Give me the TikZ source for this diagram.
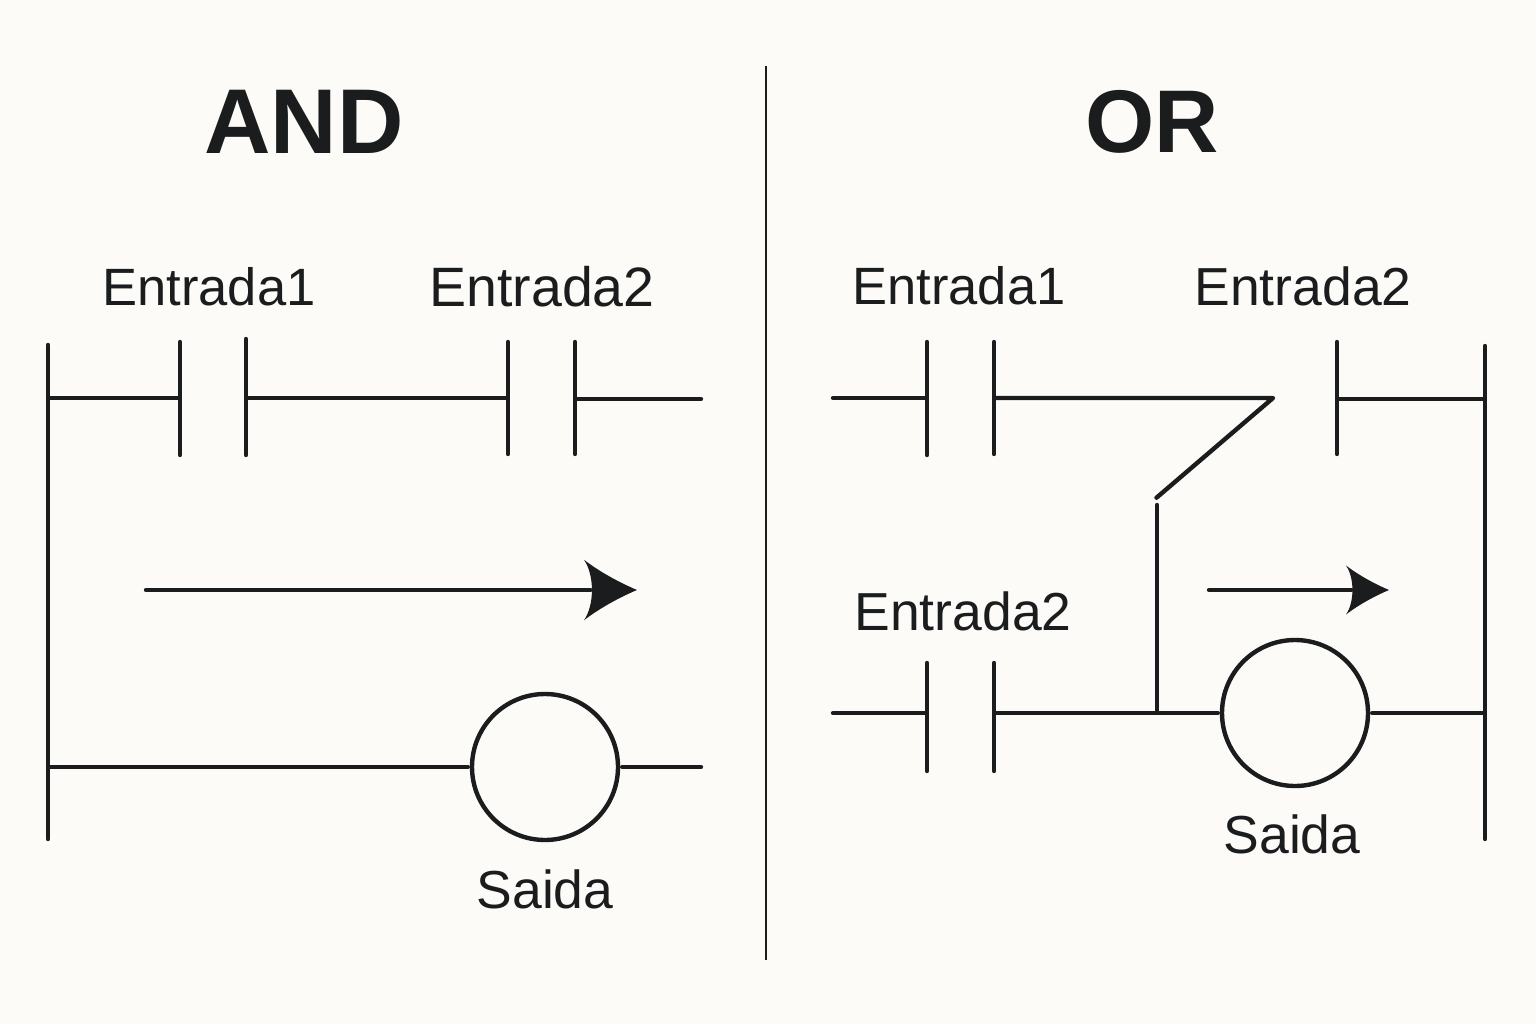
\documentclass[tikz,border=0pt]{standalone}
\usepackage{fontspec}
\setmainfont{Liberation Sans}
\usetikzlibrary{arrows.meta}
\definecolor{inkc}{HTML}{1A1C1E}
\definecolor{paperc}{HTML}{FCFBF7}
\pgfdeclarearrow{
  name=FlowHead,
  parameters={\the\pgfarrowlength},
  setup code={
    \pgfarrowssettipend{0pt}
    \pgfarrowssetlineend{-0.88\pgfarrowlength}
    \pgfarrowssetbackend{-\pgfarrowlength}
    \pgfarrowssetvisualbackend{-0.85\pgfarrowlength}
  },
  drawing code={
    \pgfpathmoveto{\pgfqpoint{0pt}{0pt}}
    \pgfpathcurveto{\pgfpoint{-0.33\pgfarrowlength}{0.14\pgfarrowlength}}{\pgfpoint{-0.7\pgfarrowlength}{0.34\pgfarrowlength}}{\pgfpoint{-\pgfarrowlength}{0.57\pgfarrowlength}}
    \pgfpathcurveto{\pgfpoint{-0.8\pgfarrowlength}{0.28\pgfarrowlength}}{\pgfpoint{-0.8\pgfarrowlength}{-0.28\pgfarrowlength}}{\pgfpoint{-\pgfarrowlength}{-0.57\pgfarrowlength}}
    \pgfpathcurveto{\pgfpoint{-0.7\pgfarrowlength}{-0.34\pgfarrowlength}}{\pgfpoint{-0.33\pgfarrowlength}{-0.14\pgfarrowlength}}{\pgfqpoint{0pt}{0pt}}
    \pgfpathclose
    \pgfusepathqfill
  },
  defaults={length=53pt}
}
\begin{document}
\begin{tikzpicture}[x=1pt, y=-1pt]
        \tikzstyle{wire} = [draw=inkc, line width=4.4pt, line cap=round, shorten >=2pt, shorten <=2pt]
        \tikzstyle{thin wire} = [draw=inkc, line width=2.8pt]
        \tikzstyle{coil} = [draw=inkc, line width=4.4pt, circle, minimum size=146pt, inner sep=0pt]
        \tikzstyle{title} = [text=inkc, font=\fontsize{92}{92}\selectfont\bfseries, inner sep=0pt]
        \tikzstyle{label} = [text=inkc, font=\fontsize{53.5}{54}\selectfont, inner sep=0pt]
        \tikzstyle{flow} = [draw=inkc, line width=4.4pt, line cap=round, shorten <=2pt]
        \fill[paperc] (0,0) rectangle (1536,1024);
        \useasboundingbox (0,0) rectangle (1536,1024);

        % Divider
        \coordinate (divtop) at (766,66);
        \coordinate (divbot) at (766,960);
        \path[thin wire] (divtop) -- (divbot);

        % AND side
        \node[title] (andtitle) at (304,122) {AND};
        \node[label, font=\fontsize{52.5}{54}\selectfont] (ae1) at (209,287) {Entrada1};
        \node[label, font=\fontsize{55.5}{54}\selectfont] (ae2) at (542,287) {Entrada2};
        \node[label] (asaida) at (545,889) {Saida};
        \node[coil] (acoil) at (545,767) {};
        \coordinate (arailtop) at (48,343);
        \coordinate (arailbot) at (48,841);
        \coordinate (arung1) at (48,398);
        \coordinate (arung2) at (48,767);
        \coordinate (ac1a) at (180,398);
        \coordinate (ac1at) at (180,340);
        \coordinate (ac1ab) at (180,457);
        \coordinate (ac1b) at (246,398);
        \coordinate (ac1bt) at (246,337);
        \coordinate (ac1bb) at (246,457);
        \coordinate (ac2a) at (508,398);
        \coordinate (ac2at) at (508,340);
        \coordinate (ac2ab) at (508,456);
        \coordinate (ac2b) at (575,399);
        \coordinate (ac2bt) at (575,340);
        \coordinate (ac2bb) at (575,456);
        \coordinate (aend1) at (703,399);
        \coordinate (aend2) at (703,767);
        \coordinate (aflow1) at (144,590);
        \coordinate (aflow2) at (637,590);
        \path[wire] (arailtop) -- (arailbot);
        \path[wire] (arung1) -- (ac1a);
        \path[wire] (ac1at) -- (ac1ab);
        \path[wire] (ac1bt) -- (ac1bb);
        \path[wire] (ac1b) -- (ac2a);
        \path[wire] (ac2at) -- (ac2ab);
        \path[wire] (ac2bt) -- (ac2bb);
        \path[wire] (ac2b) -- (aend1);
        \path[wire] (arung2) -- (acoil);
        \path[wire] (acoil) -- (aend2);
        \path[flow, -{FlowHead[length=53pt]}] (aflow1) -- (aflow2);

        % OR side
        \node[title, font=\fontsize{89}{92}\selectfont\bfseries] (ortitle) at (1152,122) {OR};
        \node[label, font=\fontsize{52.5}{54}\selectfont] (oe1) at (959,286) {Entrada1};
        \node[label] (oe2) at (1303,286) {Entrada2};
        \node[label] (oe3) at (963,611) {Entrada2};
        \node[label] (osaida) at (1292,834) {Saida};
        \node[coil] (ocoil) at (1295,713) {};
        \coordinate (orailtop) at (1485,344);
        \coordinate (orailbot) at (1485,841);
        \coordinate (orung1) at (1485,399);
        \coordinate (orung2) at (1485,713);
        \coordinate (oc1s) at (831,398);
        \coordinate (oc1a) at (927,398);
        \coordinate (oc1at) at (927,340);
        \coordinate (oc1ab) at (927,457);
        \coordinate (oc1b) at (994,398);
        \coordinate (oc1bt) at (994,340);
        \coordinate (oc1bb) at (994,456);
        \coordinate (osw) at (1273,398);
        \coordinate (oswend) at (1155,499);
        \coordinate (ojtop) at (1157,503);
        \coordinate (ojbot) at (1157,713);
        \coordinate (oc2b) at (1337,399);
        \coordinate (oc2bt) at (1337,340);
        \coordinate (oc2bb) at (1337,456);
        \coordinate (oc3s) at (831,713);
        \coordinate (oc3a) at (927,713);
        \coordinate (oc3at) at (927,661);
        \coordinate (oc3ab) at (927,773);
        \coordinate (oc3b) at (994,713);
        \coordinate (oc3bt) at (994,661);
        \coordinate (oc3bb) at (994,773);
        \coordinate (oflow1) at (1207,590);
        \coordinate (oflow2) at (1389,590);
        \path[wire] (orailtop) -- (orailbot);
        \path[wire] (oc1s) -- (oc1a);
        \path[wire] (oc1at) -- (oc1ab);
        \path[wire] (oc1bt) -- (oc1bb);
        \path[wire, line join=round] (oc1b) -- (osw) -- (oswend);
        \path[wire] (ojtop) -- (ojbot);
        \path[wire] (oc2bt) -- (oc2bb);
        \path[wire] (oc2b) -- (orung1);
        \path[wire] (oc3s) -- (oc3a);
        \path[wire] (oc3at) -- (oc3ab);
        \path[wire] (oc3bt) -- (oc3bb);
        \path[wire] (oc3b) -- (ocoil);
        \path[wire] (ocoil) -- (orung2);
        \path[flow, -{FlowHead[length=43pt]}] (oflow1) -- (oflow2);
\end{tikzpicture}
\end{document}
